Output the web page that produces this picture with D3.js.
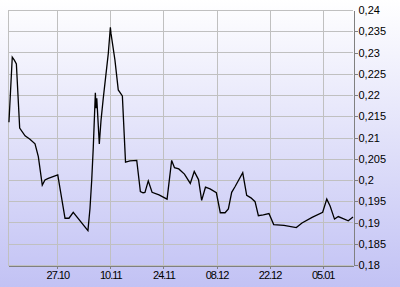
<!DOCTYPE html>
<html>
<head>
<meta charset="utf-8">
<script src="https://cdn.jsdelivr.net/npm/d3@7"></script>
<style>
  html, body { margin: 0; padding: 0; }
  svg { display: block; }
  .tick text { font-family: "Liberation Sans", Arial, sans-serif; font-size: 11px; fill: #000; }
</style>
</head>
<body>
<div id="viz"></div>
<script>
// trade times and prices
var times = [
    '2014-10-14T06:00', '2014-10-15T03:00', '2014-10-15T16:00', '2014-10-16T05:00',
    '2014-10-17T02:00', '2014-10-18T12:00', '2014-10-19T19:00', '2014-10-21T03:00',
    '2014-10-22T00:00', '2014-10-23T01:00', '2014-10-23T18:00', '2014-10-24T15:00',
    '2014-10-27T03:00', '2014-10-29T01:00', '2014-10-30T02:00', '2014-10-31T05:00',
    '2014-11-04T02:00', '2014-11-04T15:00', '2014-11-05T02:00', '2014-11-05T12:00',
    '2014-11-06T01:00', '2014-11-06T05:00', '2014-11-06T10:00', '2014-11-07T02:00',
    '2014-11-07T13:00', '2014-11-08T03:00', '2014-11-09T11:00', '2014-11-10T00:00',
    '2014-11-10T04:00', '2014-11-11T05:00', '2014-11-12T02:00', '2014-11-13T04:00',
    '2014-11-14T00:00', '2014-11-15T04:00', '2014-11-16T23:00', '2014-11-17T22:00',
    '2014-11-18T15:00', '2014-11-19T03:00', '2014-11-20T00:00', '2014-11-21T00:00',
    '2014-11-22T20:00', '2014-11-24T23:00', '2014-11-26T04:00', '2014-11-26T22:00',
    '2014-11-28T01:00', '2014-11-29T13:00', '2014-12-01T02:00', '2014-12-02T03:00',
    '2014-12-03T06:00', '2014-12-04T02:00', '2014-12-05T02:00', '2014-12-06T07:00',
    '2014-12-07T23:00', '2014-12-09T00:00', '2014-12-10T06:00', '2014-12-11T03:00',
    '2014-12-12T00:00', '2014-12-12T21:00', '2014-12-14T22:00', '2014-12-15T23:00',
    '2014-12-17T02:00', '2014-12-18T04:00', '2014-12-19T01:00', '2014-12-20T08:00',
    '2014-12-21T20:00', '2014-12-23T02:00', '2014-12-25T19:00', '2014-12-29T01:00',
    '2014-12-30T13:00', '2015-01-02T05:00', '2015-01-05T00:00', '2015-01-06T02:00',
    '2015-01-06T23:00', '2015-01-08T03:00', '2015-01-09T03:00', '2015-01-11T18:00',
    '2015-01-13T00:00'
];

var prices = [
    0.2136, 0.2289, 0.2282, 0.2273,
    0.2122, 0.2104, 0.2096, 0.2085,
    0.2055, 0.1988, 0.2000, 0.2004,
    0.2012, 0.1910, 0.1910, 0.1924,
    0.1881, 0.1933, 0.2000, 0.2078,
    0.2205, 0.2169, 0.2192, 0.2085,
    0.2141, 0.2192, 0.2298, 0.2359,
    0.2345, 0.2282, 0.2212, 0.2198,
    0.2042, 0.2045, 0.2046, 0.1973,
    0.1970, 0.1971, 0.1998, 0.1971,
    0.1965, 0.1955, 0.2046, 0.2029,
    0.2026, 0.2014, 0.1992, 0.2020,
    0.2001, 0.1952, 0.1983, 0.1979,
    0.1970, 0.1923, 0.1923, 0.1932,
    0.1971, 0.1984, 0.2017, 0.1964,
    0.1958, 0.1949, 0.1916, 0.1918,
    0.1921, 0.1895, 0.1893, 0.1888,
    0.1899, 0.1912, 0.1924, 0.1955,
    0.1939, 0.1908, 0.1914, 0.1904,
    0.1913
];

var xRange = ['2014-10-14T00:00', '2015-01-13T00:00'],
    xTicks = ['2014-10-27T00:00', '2014-11-10T00:00', '2014-11-24T00:00',
              '2014-12-08T00:00', '2014-12-22T00:00', '2015-01-05T00:00'],
    yRange = [0.18, 0.24],
    yTicks = [0.18, 0.185, 0.19, 0.195, 0.2, 0.205, 0.21,
              0.215, 0.22, 0.225, 0.23, 0.235, 0.24];

(function () {
    var width = 400,
        height = 287,
        plotLeft = 8,
        plotRight = 353,
        plotTop = 10,
        plotBottom = 265,

        parseTime = d3.utcParse('%Y-%m-%dT%H:%M'),
        ruLocale = d3.formatLocale({decimal: ',', thousands: ' ', grouping: [3], currency: ['', '']}),
        fmtPrice = ruLocale.format('.3~f'),
        fmtDate = d3.utcFormat('%d.%m'),

        points = times.map(function (t, i) {
            return {'t': parseTime(t), 'v': prices[i]};
        }),

        x = d3.scaleUtc()
            .domain(xRange.map(parseTime))
            .range([plotLeft, plotRight]),

        y = d3.scaleLinear()
            .domain(yRange)
            .range([plotBottom, plotTop]),

        svg = d3.select('#viz')
            .append('svg')
                .attr('width', width)
                .attr('height', height);

    // background gradient
    var grad = svg.append('defs')
        .append('linearGradient')
            .attr('id', 'bg')
            .attr('x1', 0).attr('y1', 0)
            .attr('x2', 0).attr('y2', 1);

    grad.append('stop').attr('offset', '0%').attr('stop-color', '#ffffff');
    grad.append('stop').attr('offset', '100%').attr('stop-color', '#c2c2f4');

    svg.append('rect')
        .attr('width', width)
        .attr('height', height)
        .attr('fill', 'url(#bg)');

    // grid
    var grid = svg.append('g')
        .attr('class', 'grid')
        .attr('shape-rendering', 'crispEdges');

    grid.selectAll('line.h')
        .data(yTicks)
        .enter().append('line')
            .attr('class', 'h')
            .attr('x1', plotLeft)
            .attr('x2', plotRight)
            .attr('y1', function (d) { return Math.round(y(d)) + 0.5; })
            .attr('y2', function (d) { return Math.round(y(d)) + 0.5; })
            .attr('stroke', '#c0c0c0');

    grid.selectAll('line.v')
        .data(xTicks.map(parseTime))
        .enter().append('line')
            .attr('class', 'v')
            .attr('x1', function (d) { return Math.round(x(d)) + 0.5; })
            .attr('x2', function (d) { return Math.round(x(d)) + 0.5; })
            .attr('y1', plotTop)
            .attr('y2', plotBottom)
            .attr('stroke', '#c0c0c0');

    grid.append('line')
        .attr('x1', plotLeft + 0.5)
        .attr('x2', plotLeft + 0.5)
        .attr('y1', plotTop)
        .attr('y2', plotBottom)
        .attr('stroke', '#c0c0c0');

    // price line
    var line = d3.line()
        .x(function (d) { return x(d.t); })
        .y(function (d) { return y(d.v); });

    svg.append('path')
        .datum(points)
        .attr('d', line)
        .style('fill', 'none')
        .style('stroke', '#000')
        .style('stroke-width', 1.3)
        .style('stroke-linejoin', 'miter');

    // axes
    var yAxis = svg.append('g')
        .attr('transform', 'translate(' + (plotRight + 0.5) + ',0)')
        .attr('shape-rendering', 'crispEdges')
        .call(d3.axisRight(y)
            .tickValues(yTicks)
            .tickFormat(fmtPrice)
            .tickSize(4)
            .tickSizeOuter(0)
            .tickPadding(1));

    var xAxis = svg.append('g')
        .attr('transform', 'translate(0,' + (plotBottom + 0.5) + ')')
        .attr('shape-rendering', 'crispEdges')
        .call(d3.axisBottom(x)
            .tickValues(xTicks.map(parseTime))
            .tickFormat(fmtDate)
            .tickSize(3)
            .tickSizeOuter(0)
            .tickPadding(3));

    xAxis.selectAll('.tick text').style('letter-spacing', '-1px');

    yAxis.selectAll('.tick')
        .filter(function (d) { return d === yRange[1]; })
        .select('line').remove();

    svg.selectAll('.domain, .tick line')
        .attr('stroke', '#808080');
})();
</script>
</body>
</html>
